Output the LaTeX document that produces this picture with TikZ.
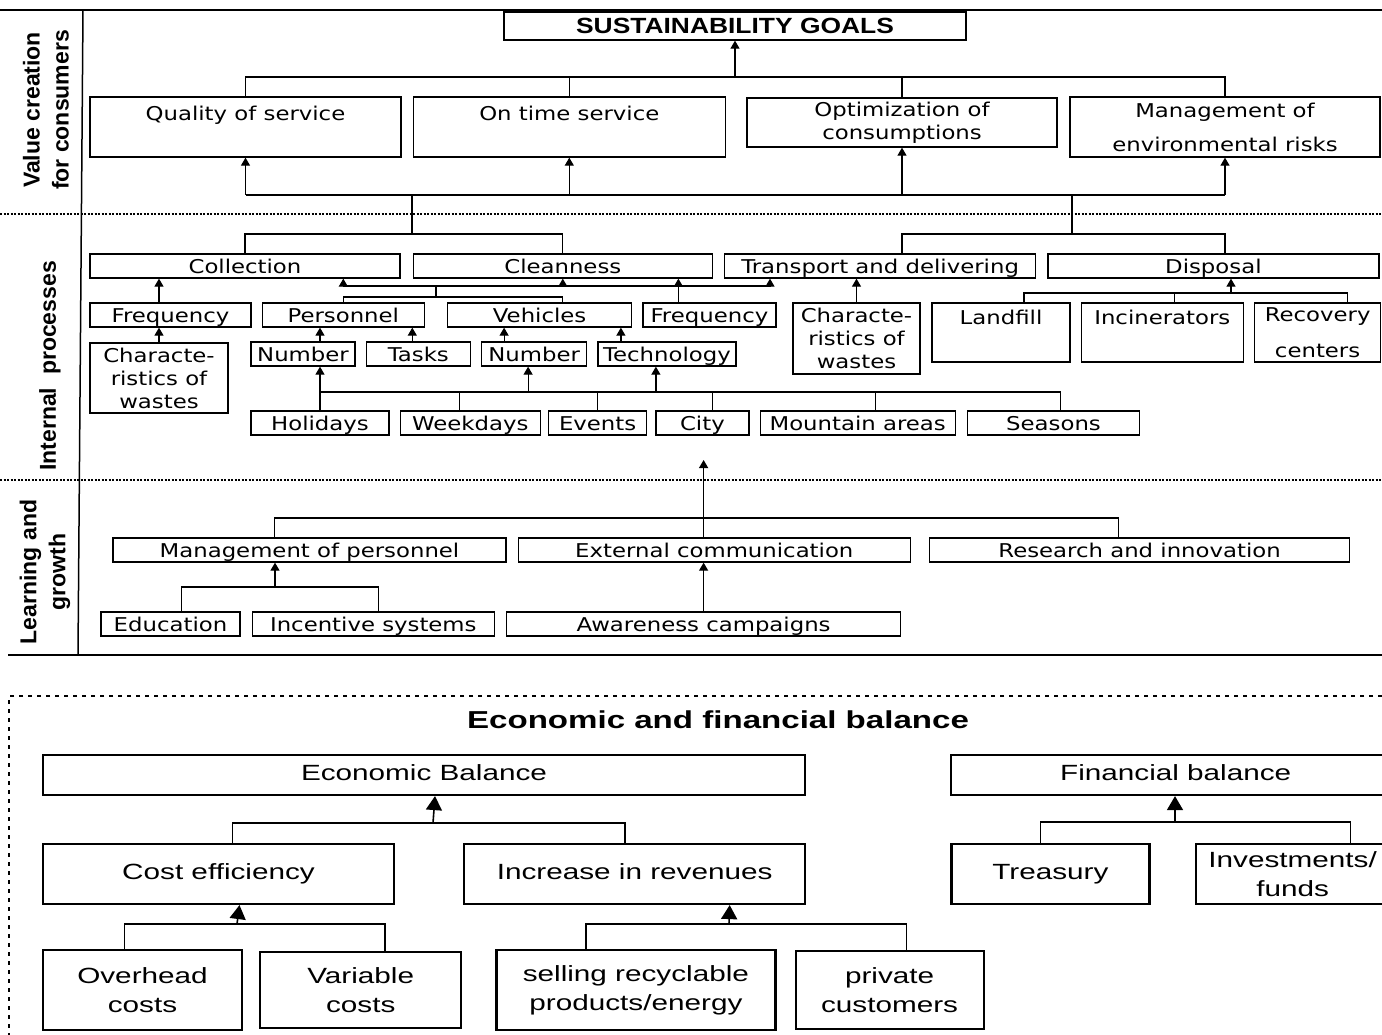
\documentclass[tikz,border=0pt]{standalone}
\usepackage{fontspec}
\usepackage{tikz}
\usetikzlibrary{arrows.meta, positioning}

\newfontfamily\boxfont[FakeStretch=1.2]{DejaVu Sans}
\newfontfamily\headfont[FakeStretch=1.2]{Liberation Sans}
\newfontfamily\sidefont{Liberation Sans}
\newfontfamily\ecofont[FakeStretch=1.35]{Liberation Sans}

\begin{document}
\begin{tikzpicture}[
        x=1pt, y=-1pt,
        cell/.style={rectangle, draw=black, line width=1.3pt, inner sep=1pt, align=center,
                     font=\boxfont\fontsize{19}{23}\selectfont},
        oneline/.style={text height=17pt, text depth=2pt},
        ecocell/.style={rectangle, draw=black, line width=2.2pt, inner sep=1pt, align=center,
                     font=\ecofont\fontsize{22}{29}\selectfont},
        ecoline/.style={text height=16pt, text depth=5pt},
        side/.style={rotate=90, align=center, font=\sidefont\bfseries\fontsize{23}{29}\selectfont},
        link/.style={line width=1.2pt},
        arrow/.style={line width=1.2pt, -{Triangle[length=8pt,width=9pt]}},
        bigarrow/.style={line width=1.6pt, -{Triangle[length=14pt,width=16pt]}},
        sepline/.style={line width=2pt, dash pattern=on 2pt off 1.5pt},
        ecoframe/.style={line width=1.6pt, dash pattern=on 4pt off 5pt}
    ]
        \useasboundingbox (0,0) rectangle (1382,1035);

        % frame of the perspectives
        \draw[link, line width=1.5pt] (0,10) -- (1382,10);
        \draw[link, line width=1.5pt] (83,10) -- (78,655);
        \draw[sepline] (0,214) -- (1382,214);
        \draw[sepline] (0,480) -- (1382,480);
        \draw[link, line width=1.5pt] (8,655) -- (1382,655);

        \node[side] (sidevalue) at (46,110) {Value creation\\for consumers};
        \node[side] (sideinternal) at (50,366) {Internal\ \ processes};
        \node[side] (sidelearning) at (45,572) {Learning and\\growth};

        % value creation
        \node[cell, font=\headfont\bfseries\fontsize{22}{26}\selectfont, minimum width=462pt, minimum height=28pt] (goals) at (735,26) {SUSTAINABILITY GOALS};
        \node[cell, minimum width=311pt, minimum height=60pt] (quality) at (245.5,127) {Quality of service\\[4pt]~};
        \node[cell, minimum width=312pt, minimum height=60pt, right=11pt of quality] (ontime) {On time service\\[4pt]~};
        \node[cell, minimum width=310pt, minimum height=49pt] (optim) at (902,122.5) {Optimization of\\consumptions};
        \node[cell, minimum width=310pt, minimum height=60pt] (envrisk) at (1225,127) {Management of\\[11pt]environmental risks};

        % internal processes
        \node[cell, oneline, minimum width=310pt, minimum height=24pt] (collection) at (245,266) {Collection};
        \node[cell, oneline, minimum width=299pt, minimum height=24pt, right=12pt of collection] (cleanness) {Cleanness};
        \node[cell, oneline, minimum width=311pt, minimum height=24pt, right=11pt of cleanness] (transport) {Transport and delivering};
        \node[cell, oneline, minimum width=331pt, minimum height=24pt, right=11pt of transport] (disposal) {Disposal};

        \node[cell, oneline, minimum width=161pt, minimum height=24pt] (freqcoll) at (170.5,315) {Frequency};
        \node[cell, oneline, minimum width=162pt, minimum height=24pt, right=10pt of freqcoll] (personnel) {Personnel};
        \node[cell, oneline, minimum width=184pt, minimum height=24pt, right=22pt of personnel] (vehicles) {Vehicles};
        \node[cell, oneline, minimum width=133pt, minimum height=24pt, right=10pt of vehicles] (freqclean) {Frequency};
        \node[cell, minimum width=127pt, minimum height=71pt] (wastestrans) at (856.5,338.5) {Characte-\\ristics of\\wastes};
        \node[cell, minimum width=138pt, minimum height=59pt] (landfill) at (1001,332.5) {Landfill\\[8pt]~};
        \node[cell, minimum width=162pt, minimum height=59pt, right=10pt of landfill] (incinerators) {Incinerators\\[8pt]~};
        \node[cell, minimum width=126pt, minimum height=59pt, right=10pt of incinerators] (recovery) {Recovery\\[13pt]centers};

        \node[cell, minimum width=138pt, minimum height=70pt] (wastescoll) at (159,378) {Characte-\\ristics of\\wastes};
        \node[cell, oneline, minimum width=104pt, minimum height=24pt] (numpers) at (303,354) {Number};
        \node[cell, oneline, minimum width=104pt, minimum height=24pt, right=10pt of numpers] (tasks) {Tasks};
        \node[cell, oneline, minimum width=105pt, minimum height=24pt, right=10pt of tasks] (numveh) {Number};
        \node[cell, oneline, minimum width=138pt, minimum height=24pt, right=10pt of numveh] (technology) {Technology};

        \node[cell, oneline, minimum width=138pt, minimum height=24pt] (holidays) at (320,423) {Holidays};
        \node[cell, oneline, minimum width=140pt, minimum height=24pt, right=10pt of holidays] (weekdays) {Weekdays};
        \node[cell, oneline, minimum width=98pt, minimum height=24pt, right=7pt of weekdays] (events) {Events};
        \node[cell, oneline, minimum width=93pt, minimum height=24pt, right=8pt of events] (city) {City};
        \node[cell, oneline, minimum width=195pt, minimum height=24pt, right=10pt of city] (mountain) {Mountain areas};
        \node[cell, oneline, minimum width=172pt, minimum height=24pt, right=11pt of mountain] (seasons) {Seasons};

        % learning and growth
        \node[cell, oneline, minimum width=393pt, minimum height=24pt] (mgmtpers) at (309.5,550) {Management of personnel};
        \node[cell, oneline, minimum width=392pt, minimum height=24pt, right=11pt of mgmtpers] (extcomm) {External communication};
        \node[cell, oneline, minimum width=420pt, minimum height=24pt, right=18pt of extcomm] (research) {Research and innovation};

        \node[cell, oneline, minimum width=139pt, minimum height=24pt] (education) at (170.5,624) {Education};
        \node[cell, oneline, minimum width=242pt, minimum height=24pt, right=11pt of education] (incentive) {Incentive systems};
        \node[cell, oneline, minimum width=394pt, minimum height=24pt, right=11pt of incentive] (awareness) {Awareness campaigns};

        % economic and financial balance
        \draw[ecoframe] (1382,696) -| (9,1040);
        \node[font=\ecofont\bfseries\fontsize{24.5}{29}\selectfont] (ecotitle) at (718,720) {Economic and financial balance};

        \node[ecocell, ecoline, minimum width=762pt, minimum height=40pt] (ecobal) at (424,775) {Economic Balance};
        \node[ecocell, ecoline, minimum width=449pt, minimum height=40pt, right=144pt of ecobal] (finbal) {Financial balance};

        \node[ecocell, ecoline, minimum width=351pt, minimum height=60pt] (costeff) at (218.5,874) {Cost efficiency};
        \node[ecocell, ecoline, minimum width=341pt, minimum height=60pt, right=68pt of costeff] (increase) {Increase in revenues};
        \node[ecocell, ecoline, minimum width=198pt, minimum height=60pt, right=144pt of increase] (treasury) {Treasury};
        \node[ecocell, minimum width=194pt, minimum height=60pt, right=44pt of treasury] (invest) {Investments/\\funds};

        \node[ecocell, minimum width=199pt, minimum height=80pt] (overhead) at (142.5,990) {Overhead\\costs};
        \node[ecocell, minimum width=201pt, minimum height=76pt, right=16pt of overhead] (variable) {Variable\\costs};
        \node[ecocell, minimum width=279pt, minimum height=80pt, right=33pt of variable] (selling) {selling recyclable\\products/energy};
        \node[ecocell, minimum width=188pt, minimum height=78pt, right=18pt of selling] (private) {private\\customers};

        % connectors: value creation
        \coordinate (goalbar) at (736,77);
        \draw[link] (quality.north) |- (goalbar) -| (envrisk.north);
        \draw[link] (ontime.north) -- (ontime.north |- goalbar);
        \draw[link] (optim.north) -- (optim.north |- goalbar);
        \draw[arrow] (goals.south |- goalbar) -- (goals.south);

        \coordinate (valbar) at (412,195);
        \coordinate (valbarR) at (1072,195);
        \draw[link] (quality.south |- valbar) -- (envrisk.south |- valbar);
        \draw[arrow] (quality.south |- valbar) -- (quality.south);
        \draw[arrow] (ontime.south |- valbar) -- (ontime.south);
        \draw[arrow] (optim.south |- valbar) -- (optim.south);
        \draw[arrow] (envrisk.south |- valbar) -- (envrisk.south);

        % connectors: internal processes
        \coordinate (ipbarL) at (412,234);
        \coordinate (ipbarR) at (1072,234);
        \draw[link] (valbar) -- (ipbarL);
        \draw[link] (valbarR) -- (ipbarR);
        \draw[link] (collection.north) |- (ipbarL) -| (cleanness.north);
        \draw[link] (optim.south |- transport.north) |- (ipbarR) -| (envrisk.south |- disposal.north);

        \coordinate (cleanbar) at (436,286);
        \coordinate (cleanbarR) at (770,286);
        \coordinate (pvbar) at (436,297);
        \draw[link] (personnel.north |- cleanbar) -- (cleanbarR);
        \draw[arrow] (personnel.north |- cleanbar) -- (personnel.north |- collection.south);
        \draw[arrow] (cleanness.south |- cleanbar) -- (cleanness.south);
        \draw[arrow] (cleanbarR) -- (cleanbarR |- transport.south);
        \draw[link] (personnel.north) |- (pvbar) -| (cleanness.south |- vehicles.north);
        \draw[link] (pvbar) -- (cleanbar);
        \draw[arrow] ([xshift=-31pt]freqclean.north) -- ([xshift=-31pt]freqclean.north |- cleanness.south);

        \draw[arrow] (wastescoll.north) -- (wastescoll.north |- freqcoll.south);
        \draw[arrow] (wastescoll.north |- freqcoll.north) -- (wastescoll.north |- collection.south);
        \draw[arrow] (wastestrans.north) -- (wastestrans.north |- transport.south);

        \coordinate (dispbar) at (1231,293);
        \draw[link] ([xshift=23pt]landfill.north) |- (dispbar) -| ([xshift=30pt]recovery.north);
        \draw[link] ([xshift=12pt]incinerators.north) -- ([xshift=12pt]incinerators.north |- dispbar);
        \draw[arrow] (dispbar) -- (dispbar |- disposal.south);

        \draw[arrow] (holidays.north |- numpers.north) -- (holidays.north |- personnel.south);
        \draw[arrow] ([xshift=-6pt]tasks.north) -- ([xshift=-6pt]tasks.north |- personnel.south);
        \draw[arrow] ([xshift=-30pt]numveh.north) -- ([xshift=-30pt]numveh.north |- vehicles.south);
        \draw[arrow] ([xshift=-46pt]technology.north) -- ([xshift=-46pt]technology.north |- vehicles.south);

        \coordinate (factbar) at (320,392);
        \draw[link] (holidays.north) -- (factbar) -- ([xshift=7pt]seasons.north |- factbar) -- ([xshift=7pt]seasons.north);
        \draw[arrow] (factbar) -- (factbar |- numpers.south);
        \draw[arrow] ([xshift=-6pt]numveh.south |- factbar) -- ([xshift=-6pt]numveh.south);
        \draw[arrow] ([xshift=-11pt]technology.south |- factbar) -- ([xshift=-11pt]technology.south);
        \draw[link] ([xshift=-11pt]weekdays.north) -- ([xshift=-11pt]weekdays.north |- factbar);
        \draw[link] (events.north) -- (events.north |- factbar);
        \draw[link] ([xshift=10pt]city.north) -- ([xshift=10pt]city.north |- factbar);
        \draw[link] ([xshift=18pt]mountain.north) -- ([xshift=18pt]mountain.north |- factbar);

        % connectors: learning and growth
        \coordinate (learntop) at (703,460);
        \coordinate (learnbar) at (703,518);
        \draw[arrow] (awareness.north |- extcomm.north) -- (awareness.north |- learntop);
        \draw[link] ([xshift=-35pt]mgmtpers.north) |- (learnbar) -| ([xshift=-21pt]research.north);
        \draw[arrow] (awareness.north) -- (awareness.north |- extcomm.south);

        \coordinate (edubar) at (275,587);
        \draw[link] ([xshift=11pt]education.north) |- (edubar) -| ([xshift=5pt]incentive.north);
        \draw[arrow] (edubar) -- (edubar |- mgmtpers.south);

        % connectors: economic and financial balance
        \coordinate (ecobar) at (433,823);
        \draw[link, line width=1.6pt] ([xshift=14pt]costeff.north) |- (ecobar) -| ([xshift=-10pt]increase.north);
        \draw[bigarrow] (ecobar) -- ([xshift=11pt]ecobal.south);

        \coordinate (costbar) at (237,924);
        \draw[link, line width=1.6pt] ([xshift=-18pt]overhead.north) |- (costbar) -| ([xshift=24pt]variable.north);
        \draw[bigarrow] (costbar) -- ([xshift=21pt]costeff.south);

        \coordinate (revbar) at (729,924);
        \draw[link, line width=1.6pt] ([xshift=-50pt]selling.north) |- (revbar) -| ([xshift=17pt]private.north);
        \draw[bigarrow] (revbar) -- ([xshift=95pt]increase.south);

        \coordinate (finbar) at (1175,822);
        \draw[link, line width=1.6pt] ([xshift=-10pt]treasury.north) |- (finbar) -| ([xshift=58pt]invest.north);
        \draw[bigarrow] (finbar) -- (finbar |- finbal.south);
    \end{tikzpicture}
\end{document}
